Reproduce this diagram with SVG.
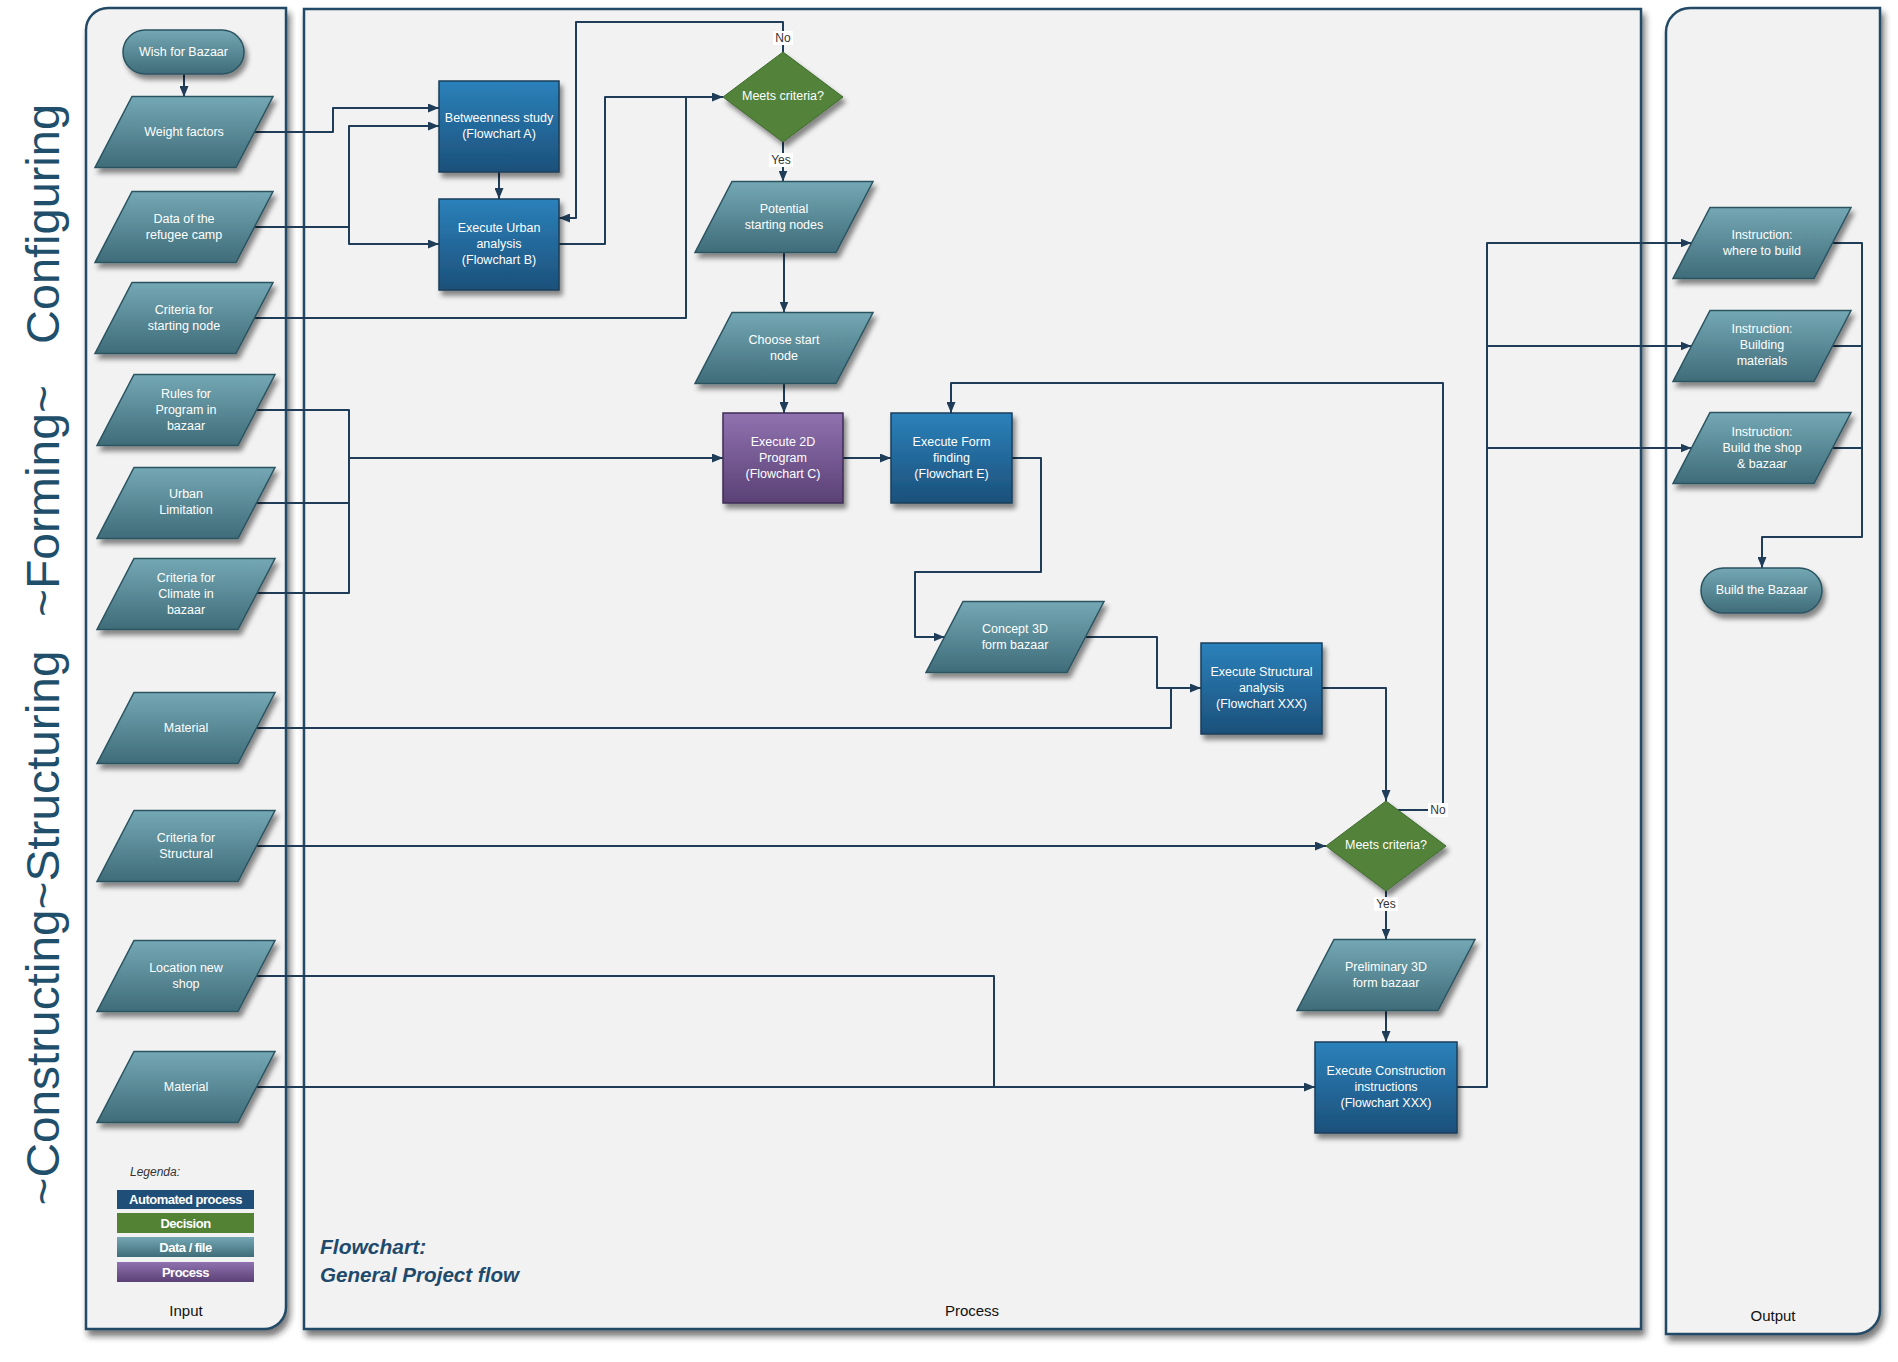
<svg xmlns="http://www.w3.org/2000/svg" width="1898" height="1362" viewBox="0 0 1898 1362">
<defs>
<style>
.lane{fill:#f2f2f2;stroke:#234a66;stroke-width:2.5}
.lbl{font-family:"Liberation Sans",Arial,sans-serif;font-size:15px;fill:#111;text-anchor:middle}
.nt{font-family:"Liberation Sans",Arial,sans-serif;font-size:12.5px;fill:#fff;text-anchor:middle;dominant-baseline:central}
.data{fill:url(#gTeal);stroke:#2c5361;stroke-width:1.5;filter:url(#sh)}
.auto{fill:url(#gBlue);stroke:#1c3f5a;stroke-width:1.5;filter:url(#sh)}
.proc{fill:url(#gPurp);stroke:#3e2c55;stroke-width:1.5;filter:url(#sh)}
.dec{fill:#52823a;stroke:#3f6a2c;stroke-width:1;filter:url(#sh)}
.c{fill:none;stroke:#1f3d58;stroke-width:2;stroke-linejoin:round}
.ca{fill:none;stroke:#1f3d58;stroke-width:2;stroke-linejoin:round;marker-end:url(#arr)}
.yn{font-family:"Liberation Sans",Arial,sans-serif;font-size:12px;fill:#333;text-anchor:middle;dominant-baseline:central}
.side{font-family:"Liberation Sans",Arial,sans-serif;font-size:47px;fill:#1f4f6a;text-anchor:middle}
.leg{font-family:"Liberation Sans",Arial,sans-serif;font-size:13px;font-weight:bold;fill:#fff;text-anchor:middle;dominant-baseline:central;letter-spacing:-0.5px}
.title{font-family:"Liberation Sans",Arial,sans-serif;font-size:21px;font-weight:bold;font-style:italic;fill:#1f4a6b}
</style>
<linearGradient id="gTeal" x1="0" y1="0" x2="0" y2="1"><stop offset="0" stop-color="#74a8b4"/><stop offset="1" stop-color="#3f6c79"/></linearGradient>
<linearGradient id="gBlue" x1="0" y1="0" x2="0" y2="1"><stop offset="0" stop-color="#2b81bb"/><stop offset="1" stop-color="#1c507a"/></linearGradient>
<linearGradient id="gPurp" x1="0" y1="0" x2="0" y2="1"><stop offset="0" stop-color="#9072b0"/><stop offset="1" stop-color="#5a4175"/></linearGradient>
<filter id="sh" x="-20%" y="-20%" width="150%" height="160%"><feDropShadow dx="3" dy="5" stdDeviation="2.5" flood-color="#000" flood-opacity="0.45"/></filter>
<filter id="lsh" x="-5%" y="-5%" width="110%" height="110%"><feDropShadow dx="3" dy="6" stdDeviation="3" flood-color="#222" flood-opacity="0.6"/></filter>
<marker id="arr" viewBox="0 0 11 9" refX="11" refY="4.5" markerWidth="11" markerHeight="9" markerUnits="userSpaceOnUse" orient="auto"><path d="M0,0 L11,4.5 L0,9 Z" fill="#1f3d58"/></marker>
</defs>
<rect width="1898" height="1362" fill="#ffffff"/>

<g id="lanes">
<path class="lane" filter="url(#lsh)" d="M86,30 A22,22 0 0 1 108,8 H286 V1307 A22,22 0 0 1 264,1329 H86 Z"/>
<rect class="lane" filter="url(#lsh)" x="304" y="9" width="1337" height="1320"/>
<path class="lane" filter="url(#lsh)" d="M1666,32 A24,24 0 0 1 1690,8 H1880 V1310 A24,24 0 0 1 1856,1334 H1666 Z"/>
<text class="lbl" x="186" y="1316">Input</text>
<text class="lbl" x="972" y="1316">Process</text>
<text class="lbl" x="1773" y="1321">Output</text>
</g>

<g id="side-labels">
<text class="side" transform="translate(59,224) rotate(-90)" textLength="240" lengthAdjust="spacingAndGlyphs">Configuring</text>
<text class="side" transform="translate(59,501) rotate(-90)" textLength="232" lengthAdjust="spacingAndGlyphs">~Forming~</text>
<text class="side" transform="translate(59,928) rotate(-90)" textLength="555" lengthAdjust="spacingAndGlyphs">~Constructing~Structuring</text>
</g>

<g id="connectors">
<path class="ca" d="M184,74 V97"/>
<path class="ca" d="M254.5,132 H333 V108 H439"/>
<path class="ca" d="M254.5,227 H349 V126 H439"/>
<path class="ca" d="M349,227 V244 H439"/>
<path class="ca" d="M499,172 V199"/>
<path class="ca" d="M559,244 H605 V97 H723"/>
<path class="c" d="M254.5,318 H686 V97"/>
<path class="ca" d="M783,52 V22 H576 V218 H559"/>
<path class="ca" d="M783,142 V181.5"/>
<path class="ca" d="M784,252.5 V312.5"/>
<path class="ca" d="M784,383.5 V413"/>
<path class="c" d="M256.5,410 H349 V593 H256.5"/>
<path class="c" d="M256.5,503 H349"/>
<path class="ca" d="M349,458 H723"/>
<path class="ca" d="M843,458 H891"/>
<path class="ca" d="M1012,458 H1041 V572 H915 V637 H944.5"/>
<path class="ca" d="M1085.5,637 H1157 V688 H1201"/>
<path class="c" d="M256.5,728 H1171 V688"/>
<path class="ca" d="M1322,688 H1386 V801"/>
<path class="ca" d="M256.5,846 H1326"/>
<path class="ca" d="M1398,810 H1443 V383 H951 V413"/>
<path class="ca" d="M1386,891 V939.5"/>
<path class="ca" d="M1386,1010.5 V1042"/>
<path class="ca" d="M256.5,1087 H1315"/>
<path class="c" d="M256.5,976 H994 V1087"/>
<path class="ca" d="M1457,1087 H1487 V243 H1691.5"/>
<path class="ca" d="M1487,346 H1691.5"/>
<path class="ca" d="M1487,448 H1691.5"/>
<path class="ca" d="M1832.5,243 H1862 V537 H1762 V568"/>
<path class="c" d="M1832.5,346 H1862"/>
<path class="c" d="M1832.5,448 H1862"/>
<rect x="773" y="31" width="20" height="14" fill="#fff"/>
<text class="yn" x="783" y="38">No</text>
<rect x="769" y="153" width="24" height="14" fill="#fff"/>
<text class="yn" x="781" y="160">Yes</text>
<rect x="1428" y="803" width="20" height="14" fill="#fff"/>
<text class="yn" x="1438" y="810">No</text>
<rect x="1374" y="897" width="24" height="14" fill="#fff"/>
<text class="yn" x="1386" y="904">Yes</text>
</g>

<g id="n-wish"><rect class="data" x="123" y="30" width="121" height="44" rx="22"/><text class="nt" x="183.5" y="52">Wish for Bazaar</text></g>
<g id="n-weight"><polygon class="data" points="132,96.5 273,96.5 236,167.5 95,167.5"/><text class="nt" x="184" y="132">Weight factors</text></g>
<g id="n-data"><polygon class="data" points="132,191.5 273,191.5 236,262.5 95,262.5"/><text class="nt" x="184" y="219">Data of the</text><text class="nt" x="184" y="235">refugee camp</text></g>
<g id="n-critstart"><polygon class="data" points="132,282.5 273,282.5 236,353.5 95,353.5"/><text class="nt" x="184" y="310">Criteria for</text><text class="nt" x="184" y="326">starting node</text></g>
<g id="n-rules"><polygon class="data" points="134,374.5 275,374.5 238,445.5 97,445.5"/><text class="nt" x="186" y="394">Rules for</text><text class="nt" x="186" y="410">Program in</text><text class="nt" x="186" y="426">bazaar</text></g>
<g id="n-urbanlim"><polygon class="data" points="134,467.5 275,467.5 238,538.5 97,538.5"/><text class="nt" x="186" y="494">Urban</text><text class="nt" x="186" y="510">Limitation</text></g>
<g id="n-climate"><polygon class="data" points="134,558.5 275,558.5 238,629.5 97,629.5"/><text class="nt" x="186" y="578">Criteria for</text><text class="nt" x="186" y="594">Climate in</text><text class="nt" x="186" y="610">bazaar</text></g>
<g id="n-material1"><polygon class="data" points="134,692.5 275,692.5 238,763.5 97,763.5"/><text class="nt" x="186" y="728">Material</text></g>
<g id="n-critstruct"><polygon class="data" points="134,810.5 275,810.5 238,881.5 97,881.5"/><text class="nt" x="186" y="838">Criteria for</text><text class="nt" x="186" y="854">Structural</text></g>
<g id="n-location"><polygon class="data" points="134,940.5 275,940.5 238,1011.5 97,1011.5"/><text class="nt" x="186" y="968">Location new</text><text class="nt" x="186" y="984">shop</text></g>
<g id="n-material2"><polygon class="data" points="134,1051.5 275,1051.5 238,1122.5 97,1122.5"/><text class="nt" x="186" y="1087">Material</text></g>

<g id="n-betweenness"><rect class="auto" x="439" y="81" width="120" height="91"/><text class="nt" x="499" y="118">Betweenness study</text><text class="nt" x="499" y="134">(Flowchart A)</text></g>
<g id="n-urban"><rect class="auto" x="439" y="199" width="120" height="91"/><text class="nt" x="499" y="228">Execute Urban</text><text class="nt" x="499" y="244">analysis</text><text class="nt" x="499" y="260">(Flowchart B)</text></g>
<g id="n-meets1"><polygon class="dec" points="783,52 843,97 783,142 723,97"/><text class="nt" x="783" y="96">Meets criteria?</text></g>
<g id="n-potential"><polygon class="data" points="732,181.5 873,181.5 836,252.5 695,252.5"/><text class="nt" x="784" y="209">Potential</text><text class="nt" x="784" y="225">starting nodes</text></g>
<g id="n-choose"><polygon class="data" points="732,312.5 873,312.5 836,383.5 695,383.5"/><text class="nt" x="784" y="340">Choose start</text><text class="nt" x="784" y="356">node</text></g>
<g id="n-2d"><rect class="proc" x="723" y="413" width="120" height="90"/><text class="nt" x="783" y="442">Execute 2D</text><text class="nt" x="783" y="458">Program</text><text class="nt" x="783" y="474">(Flowchart C)</text></g>
<g id="n-form"><rect class="auto" x="891" y="413" width="121" height="90"/><text class="nt" x="951.5" y="442">Execute Form</text><text class="nt" x="951.5" y="458">finding</text><text class="nt" x="951.5" y="474">(Flowchart E)</text></g>
<g id="n-concept"><polygon class="data" points="963,601.5 1104,601.5 1067,672.5 926,672.5"/><text class="nt" x="1015" y="629">Concept 3D</text><text class="nt" x="1015" y="645">form bazaar</text></g>
<g id="n-structural"><rect class="auto" x="1201" y="643" width="121" height="91"/><text class="nt" x="1261.5" y="672">Execute Structural</text><text class="nt" x="1261.5" y="688">analysis</text><text class="nt" x="1261.5" y="704">(Flowchart XXX)</text></g>
<g id="n-meets2"><polygon class="dec" points="1386,801 1446,846 1386,891 1326,846"/><text class="nt" x="1386" y="845">Meets criteria?</text></g>
<g id="n-prelim"><polygon class="data" points="1334,939.5 1475,939.5 1438,1010.5 1297,1010.5"/><text class="nt" x="1386" y="967">Preliminary 3D</text><text class="nt" x="1386" y="983">form bazaar</text></g>
<g id="n-construction"><rect class="auto" x="1315" y="1042" width="142" height="91"/><text class="nt" x="1386" y="1071">Execute Construction</text><text class="nt" x="1386" y="1087">instructions</text><text class="nt" x="1386" y="1103">(Flowchart XXX)</text></g>

<g id="n-out-where"><polygon class="data" points="1710,207.5 1851,207.5 1814,278.5 1673,278.5"/><text class="nt" x="1762" y="235">Instruction:</text><text class="nt" x="1762" y="251">where to build</text></g>
<g id="n-out-materials"><polygon class="data" points="1710,310.5 1851,310.5 1814,381.5 1673,381.5"/><text class="nt" x="1762" y="329">Instruction:</text><text class="nt" x="1762" y="345">Building</text><text class="nt" x="1762" y="361">materials</text></g>
<g id="n-out-shop"><polygon class="data" points="1710,412.5 1851,412.5 1814,483.5 1673,483.5"/><text class="nt" x="1762" y="432">Instruction:</text><text class="nt" x="1762" y="448">Build the shop</text><text class="nt" x="1762" y="464">&amp; bazaar</text></g>
<g id="n-build"><rect class="data" x="1701" y="568" width="121" height="45" rx="22.5"/><text class="nt" x="1761.5" y="590">Build the Bazaar</text></g>

<g id="legend">
<text x="130" y="1176" font-family="Liberation Sans, Arial, sans-serif" font-size="12" font-style="italic" fill="#333">Legenda:</text>
<rect x="117" y="1190" width="137" height="19" fill="#1f4e79"/><text class="leg" x="185.5" y="1199.5">Automated process</text>
<rect x="117" y="1213" width="137" height="20" fill="#548235"/><text class="leg" x="185.5" y="1223">Decision</text>
<rect x="117" y="1237" width="137" height="20" fill="url(#gTeal)"/><text class="leg" x="185.5" y="1247">Data / file</text>
<rect x="117" y="1262" width="137" height="20" fill="url(#gPurp)"/><text class="leg" x="185.5" y="1272">Process</text>
</g>

<g id="title">
<text class="title" x="320" y="1254">Flowchart:</text>
<text class="title" x="320" y="1282" textLength="199" lengthAdjust="spacingAndGlyphs">General Project flow</text>
</g>
</svg>
